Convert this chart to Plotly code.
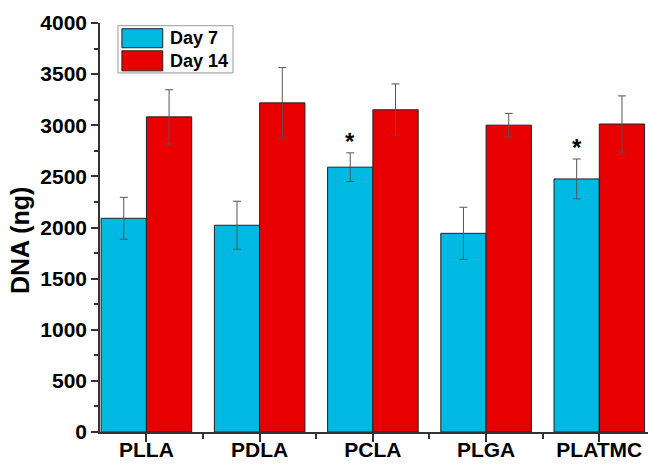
import plotly.graph_objects as go

categories = ["PLLA", "PDLA", "PCLA", "PLGA", "PLATMC"]
day7 = [2090, 2022, 2590, 1943, 2475]
day7_err = [205, 235, 140, 255, 195]
day14 = [3082, 3219, 3151, 3001, 3012]
day14_err = [265, 345, 253, 115, 275]
sig7 = ["", "", "*", "", "*"]
series_names = ["Day 7", "Day 14"]
colors = ["#00B9E2", "#E80000"]
y_ticks = [0, 500, 1000, 1500, 2000, 2500, 3000, 3500, 4000]

FONT = "Arial, 'Liberation Sans', sans-serif"
xs = list(range(len(categories)))

fig = go.Figure()
for name, vals, errs, col in [(series_names[0], day7, day7_err, colors[0]),
                              (series_names[1], day14, day14_err, colors[1])]:
    fig.add_trace(go.Bar(
        x=xs, y=vals, name=name,
        marker=dict(color=col, line=dict(color="#222222", width=1)),
        error_y=dict(type="data", array=errs, visible=True, color="#555555",
                     thickness=1, width=4),
        showlegend=False,
    ))

# significance markers above Day 7 bars
for i, s in enumerate(sig7):
    if s:
        fig.add_annotation(x=i - 0.2, y=day7[i] + day7_err[i], xref="x", yref="y",
                           text=f"<b>{s}</b>", showarrow=False, yanchor="bottom",
                           yshift=-4, font=dict(family=FONT, size=24, color="black"))

# manual legend
fig.add_shape(type="rect", xref="paper", yref="paper", x0=0.0328, x1=0.2427,
              y0=0.878, y1=0.9934, line=dict(color="#999999", width=1), fillcolor="white")
legend_rows = [(0.9395, 0.986), (0.883, 0.932)]
for (y0, y1), name, col in zip(legend_rows, series_names, colors):
    fig.add_shape(type="rect", xref="paper", yref="paper", x0=0.040, x1=0.1145,
                  y0=y0, y1=y1, line=dict(color="#222222", width=1), fillcolor=col)
    fig.add_annotation(xref="paper", yref="paper", x=0.1235, y=(y0 + y1) / 2,
                       text=f"<b>{name}</b>", showarrow=False, xanchor="left",
                       yanchor="middle", font=dict(family=FONT, size=18, color="black"))

# y-axis title
fig.add_annotation(xref="paper", yref="paper", x=(20 - 100) / 548, y=(431.7 - 241) / 408.4,
                   text="<b>DNA (ng)</b>", showarrow=False, textangle=-90,
                   xanchor="center", yanchor="middle",
                   font=dict(family=FONT, size=25, color="black"))

fig.update_layout(
    width=649, height=464,
    margin=dict(l=100, r=1, t=23, b=32, autoexpand=False),
    plot_bgcolor="white", paper_bgcolor="white",
    barmode="group", bargap=0.2, bargroupgap=0,
    font=dict(family=FONT, size=20, color="black"),
)
fig.update_xaxes(
    range=[-0.41, 4.43], tickvals=xs, ticktext=[f"<b>{c}</b>" for c in categories],
    showline=True, linecolor="#333333", linewidth=1.5, ticks="outside", ticklen=8,
    tickcolor="#333333", tickwidth=1.5, showgrid=False, zeroline=False, automargin=False,
    ticklabelstandoff=-10,
    tickfont=dict(family=FONT, size=21, color="black"),
    minor=dict(tickvals=[0.5, 1.5, 2.5, 3.5], ticks="outside", ticklen=5,
               tickcolor="#333333", tickwidth=1.5, showgrid=False),
)
fig.update_yaxes(
    range=[0, 4000], tickvals=y_ticks, ticktext=[f"<b>{v}</b>" for v in y_ticks],
    showline=True, linecolor="#333333", linewidth=1.5, ticks="outside", ticklen=7,
    tickcolor="#333333", tickwidth=1.5, showgrid=False, zeroline=False, automargin=False,
    tickfont=dict(family=FONT, size=21, color="black"),
    minor=dict(dtick=250, tick0=250, ticks="outside", ticklen=4,
               tickcolor="#333333", tickwidth=1.5, showgrid=False),
)

fig.write_html("out.html")
